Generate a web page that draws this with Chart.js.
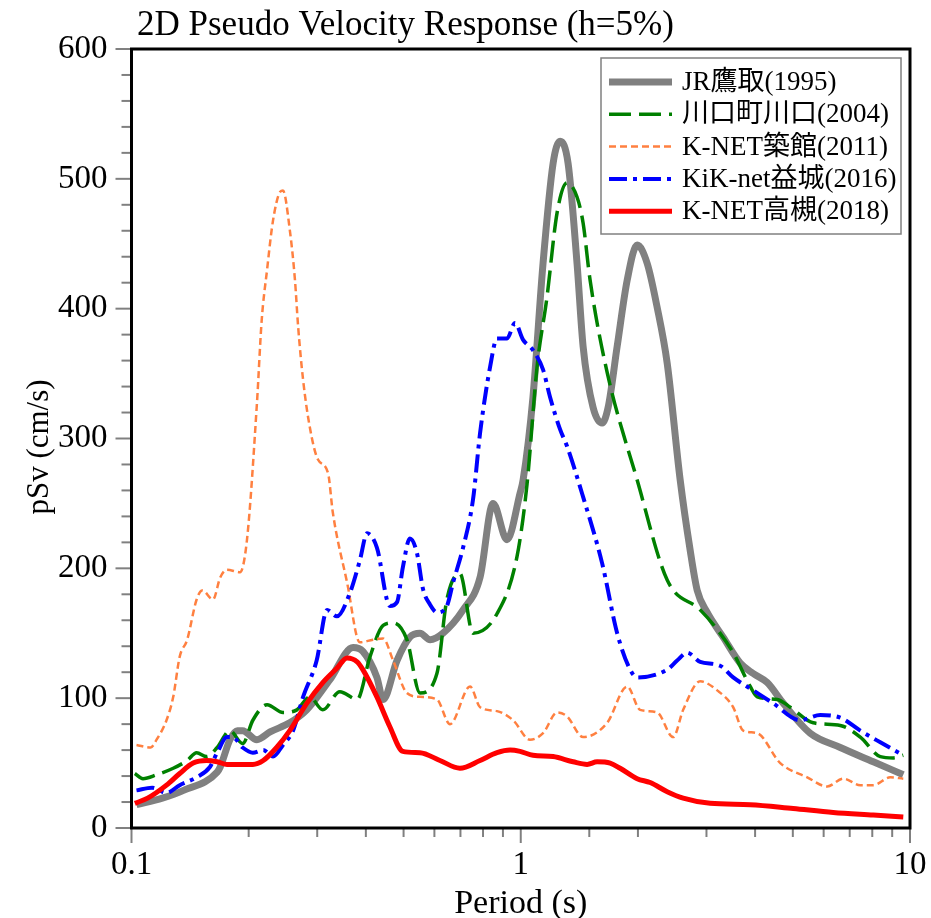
<!DOCTYPE html>
<html>
<head>
<meta charset="utf-8">
<script src="https://cdn.jsdelivr.net/npm/chart.js@4.4.0/dist/chart.umd.min.js"></script>
<style>
  html, body { margin: 0; padding: 0; background: #fff; }
  canvas { display: block; }
</style>
</head>
<body>
<canvas id="chartPsv" width="931" height="918"></canvas>
<script>
// 周期 (s) / pSv (cm/s)
const takatoriPeriod = [0.103, 0.120, 0.136, 0.166, 0.169, 0.179, 0.187, 0.193, 0.210, 0.227, 0.255, 0.282, 0.323, 0.371, 0.393, 0.427, 0.443, 0.481, 0.519, 0.551, 0.585, 0.631, 0.711, 0.786, 0.849, 0.922, 0.996, 1.014, 1.075, 1.141, 1.211, 1.262, 1.323, 1.395, 1.446, 1.534, 1.618, 1.677, 1.769, 1.877, 1.991, 2.112, 2.241, 2.378, 2.568, 2.724, 2.840, 3.013, 3.311, 3.663, 3.956, 4.298, 4.725, 5.542, 6.62, 8.05, 9.61];
const takatoriSv = [18, 23, 29, 43, 47, 68, 75, 75, 68, 74, 81, 91, 114, 139, 136, 116, 99, 129, 147, 150, 145, 150, 168, 193, 250, 222, 258, 268, 332, 435, 512, 529, 512, 435, 371, 324, 312, 324, 371, 422, 449, 435, 401, 358, 268, 214, 183, 166, 147, 127, 119, 112, 96, 73, 62, 51, 41];

const kawaguchiPeriod = [0.102, 0.107, 0.116, 0.128, 0.139, 0.147, 0.156, 0.166, 0.179, 0.193, 0.205, 0.223, 0.245, 0.266, 0.287, 0.310, 0.343, 0.380, 0.410, 0.443, 0.470, 0.510, 0.551, 0.609, 0.646, 0.698, 0.754, 0.869, 0.978, 1.038, 1.101, 1.168, 1.240, 1.315, 1.395, 1.446, 1.507, 1.667, 1.991, 2.378, 2.891, 3.196, 3.514, 3.886, 4.051, 4.561, 4.924, 5.641, 6.62, 7.453, 8.389, 9.06, 9.61];
const kawaguchiSv = [42, 38, 41, 46, 52, 58, 55, 62, 75, 65, 83, 95, 89, 91, 101, 91, 105, 99, 132, 156, 158, 145, 104, 119, 176, 196, 150, 165, 209, 265, 355, 409, 474, 497, 486, 466, 422, 351, 268, 191, 168, 153, 135, 109, 101, 99, 93, 81, 79, 70, 55, 54, 56];

const tsukidatePeriod = [0.103, 0.112, 0.116, 0.123, 0.128, 0.133, 0.139, 0.147, 0.152, 0.162, 0.169, 0.176, 0.190, 0.198, 0.210, 0.216, 0.223, 0.231, 0.241, 0.245, 0.255, 0.263, 0.268, 0.276, 0.287, 0.301, 0.320, 0.329, 0.358, 0.386, 0.417, 0.443, 0.470, 0.510, 0.551, 0.609, 0.658, 0.741, 0.786, 0.869, 0.956, 1.056, 1.141, 1.240, 1.315, 1.446, 1.667, 1.877, 2.026, 2.241, 2.464, 2.614, 2.891, 3.196, 3.514, 3.728, 4.051, 4.641, 5.445, 6.13, 6.74, 7.453, 8.05, 8.9, 9.61];
const tsukidateSv = [64, 62, 68, 83, 101, 132, 145, 176, 183, 176, 193, 199, 197, 222, 327, 391, 430, 468, 490, 491, 461, 422, 386, 345, 309, 284, 273, 243, 189, 143, 145, 146, 129, 104, 101, 99, 80, 109, 93, 90, 83, 68, 73, 89, 86, 70, 81, 109, 91, 89, 70, 91, 113, 106, 93, 75, 73, 50, 39, 32, 38, 33, 33, 39, 38];

const mashikiPeriod = [0.103, 0.113, 0.123, 0.133, 0.147, 0.159, 0.166, 0.176, 0.182, 0.193, 0.205, 0.218, 0.231, 0.245, 0.260, 0.276, 0.299, 0.318, 0.337, 0.364, 0.386, 0.403, 0.427, 0.461, 0.481, 0.498, 0.519, 0.541, 0.561, 0.585, 0.609, 0.646, 0.670, 0.711, 0.754, 0.786, 0.834, 0.869, 0.922, 0.967, 1.014, 1.075, 1.141, 1.189, 1.262, 1.315, 1.446, 1.618, 1.769, 1.910, 1.991, 2.378, 2.522, 2.676, 2.891, 3.252, 3.514, 3.956, 4.454, 5.224, 5.883, 6.62, 7.453, 8.389, 9.61];
const mashikiSv = [29, 31, 27, 33, 39, 47, 58, 70, 70, 62, 58, 60, 55, 64, 75, 101, 129, 168, 163, 181, 206, 227, 216, 171, 174, 201, 223, 212, 184, 172, 166, 171, 189, 216, 253, 304, 355, 377, 377, 389, 376, 368, 353, 332, 307, 294, 255, 204, 150, 122, 116, 122, 129, 135, 128, 125, 116, 106, 96, 83, 87, 85, 75, 66, 56];

const takatsukiPeriod = [0.102, 0.110, 0.123, 0.133, 0.144, 0.156, 0.166, 0.176, 0.193, 0.205, 0.218, 0.236, 0.255, 0.282, 0.310, 0.337, 0.358, 0.380, 0.393, 0.427, 0.461, 0.498, 0.551, 0.620, 0.698, 0.786, 0.869, 0.939, 0.996, 1.075, 1.211, 1.363, 1.481, 1.571, 1.697, 1.800, 1.991, 2.150, 2.378, 2.614, 3.066, 3.886, 5.012, 6.35, 8.05, 9.61];
const takatsukiSv = [19, 23, 33, 42, 50, 52, 51, 49, 49, 49, 52, 62, 75, 96, 112, 123, 131, 128, 122, 101, 78, 59, 58, 52, 46, 52, 58, 60, 59, 56, 55, 51, 49, 51, 50, 46, 38, 35, 28, 23, 19, 18, 15, 12, 10, 8.5];

const seriesLabels = ['JR鷹取(1995)', '川口町川口(2004)', 'K-NET築館(2011)', 'KiK-net益城(2016)', 'K-NET高槻(2018)'];
const yTickLabels = [0, 100, 200, 300, 400, 500, 600];
const xTickLabels = [0.1, 1, 10];

const serif = '"Liberation Serif", "Noto Sans CJK JP", serif';

function pares(periodos, valores) {
    return periodos.map((p, i) => ({ x: p, y: valores[i] }));
}

function linha(label, periodos, valores, cor, largura, tracejado, ordem) {
    return {
        label: label,
        data: pares(periodos, valores),
        borderColor: cor,
        borderWidth: largura,
        borderDash: tracejado,
        pointRadius: 0,
        fill: false,
        cubicInterpolationMode: 'monotone',
        order: ordem
    };
}

function isDecade(v) {
    const l = Math.log10(v);
    return Math.abs(l - Math.round(l)) < 1e-6;
}

// marcas dos eixos, moldura, legenda e textos
const decoracao = {
    id: 'decoracao',
    afterDatasetsDraw(chart) {
        const { ctx, chartArea: a, scales: { x, y } } = chart;
        ctx.save();
        ctx.strokeStyle = '#808080';
        ctx.lineWidth = 2;
        x.ticks.forEach(t => {
            const px = x.getPixelForValue(t.value);
            const len = isDecade(t.value) ? 15 : 9;
            ctx.beginPath();
            ctx.moveTo(px, a.bottom);
            ctx.lineTo(px, a.bottom + len);
            ctx.stroke();
        });
        y.ticks.forEach(t => {
            const py = y.getPixelForValue(t.value);
            const len = yTickLabels.includes(t.value) ? 16 : 10;
            ctx.beginPath();
            ctx.moveTo(a.left, py);
            ctx.lineTo(a.left - len, py);
            ctx.stroke();
        });

        ctx.strokeStyle = '#000';
        ctx.lineWidth = 3;
        ctx.strokeRect(a.left, a.top, a.right - a.left, a.bottom - a.top);

        // legenda
        const bx = a.right - 309, by = a.top + 9, bw = 300, bh = 176;
        ctx.fillStyle = '#fff';
        ctx.fillRect(bx, by, bw, bh);
        ctx.strokeStyle = '#808080';
        ctx.lineWidth = 1.5;
        ctx.strokeRect(bx, by, bw, bh);
        const ordemLegenda = [0, 1, 2, 3, 4];
        ordemLegenda.forEach((i, k) => {
            const ds = chart.data.datasets[i];
            const ry = by + 24 + k * 32.3;
            ctx.strokeStyle = ds.borderColor;
            ctx.lineWidth = ds.borderWidth;
            ctx.setLineDash(ds.borderDash || []);
            ctx.beginPath();
            ctx.moveTo(bx + 8, ry);
            ctx.lineTo(bx + 71, ry);
            ctx.stroke();
            ctx.setLineDash([]);
            ctx.fillStyle = '#000';
            ctx.font = '27px ' + serif;
            ctx.textBaseline = 'middle';
            ctx.textAlign = 'left';
            ctx.fillText(ds.label, bx + 81, ry + 1);
        });
        ctx.restore();
    },
    afterDraw(chart) {
        const { ctx, chartArea: a } = chart;
        ctx.save();
        ctx.fillStyle = '#000';
        ctx.textBaseline = 'middle';
        ctx.font = '35px ' + serif;
        ctx.textAlign = 'left';
        ctx.fillText('2D Pseudo Velocity Response (h=5%)', 137, 26);
        ctx.textAlign = 'center';
        ctx.font = '34px ' + serif;
        ctx.fillText('Period (s)', (a.left + a.right) / 2, 904);
        ctx.font = '31px ' + serif;
        ctx.translate(40, 447);
        ctx.rotate(-Math.PI / 2);
        ctx.fillText('pSv (cm/s)', 0, 0);
        ctx.restore();
    }
};

new Chart(document.getElementById('chartPsv'), {
    type: 'line',
    data: {
        datasets: [
            linha(seriesLabels[0], takatoriPeriod, takatoriSv, '#808080', 7, [], 5),
            linha(seriesLabels[1], kawaguchiPeriod, kawaguchiSv, '#008000', 3.5, [22, 8], 4),
            linha(seriesLabels[2], tsukidatePeriod, tsukidateSv, '#ff8040', 2.5, [7, 4], 3),
            linha(seriesLabels[3], mashikiPeriod, mashikiSv, '#0000ff', 4, [18, 6, 4, 6], 2),
            linha(seriesLabels[4], takatsukiPeriod, takatsukiSv, '#ff0000', 5, [], 1)
        ]
    },
    options: {
        responsive: false,
        animation: false,
        events: [],
        layout: { padding: { top: 49, right: 21, left: 0, bottom: 0 } },
        plugins: {
            legend: { display: false },
            tooltip: { enabled: false },
            title: { display: false }
        },
        scales: {
            x: {
                type: 'logarithmic',
                min: 0.1,
                max: 10,
                grid: { display: false, drawTicks: false },
                border: { display: false },
                afterFit(scale) {
                    scale.height = 90;
                    scale.paddingLeft = 0;
                    scale.paddingRight = 0;
                },
                ticks: {
                    autoSkip: false,
                    maxRotation: 0,
                    padding: 18,
                    color: '#000',
                    font: { family: serif, size: 33 },
                    callback: v => (xTickLabels.includes(v) ? String(v) : '')
                }
            },
            y: {
                min: 0,
                max: 600,
                grid: { display: false, drawTicks: false },
                border: { display: false },
                afterFit(scale) {
                    scale.width = 131.5;
                    scale.paddingTop = 0;
                    scale.paddingBottom = 0;
                },
                ticks: {
                    stepSize: 20,
                    maxTicksLimit: 100,
                    autoSkip: false,
                    padding: 24,
                    color: '#000',
                    font: { family: serif, size: 33 },
                    callback: v => (yTickLabels.includes(v) ? String(v) : '')
                }
            }
        }
    },
    plugins: [decoracao]
});
</script>
</body>
</html>
